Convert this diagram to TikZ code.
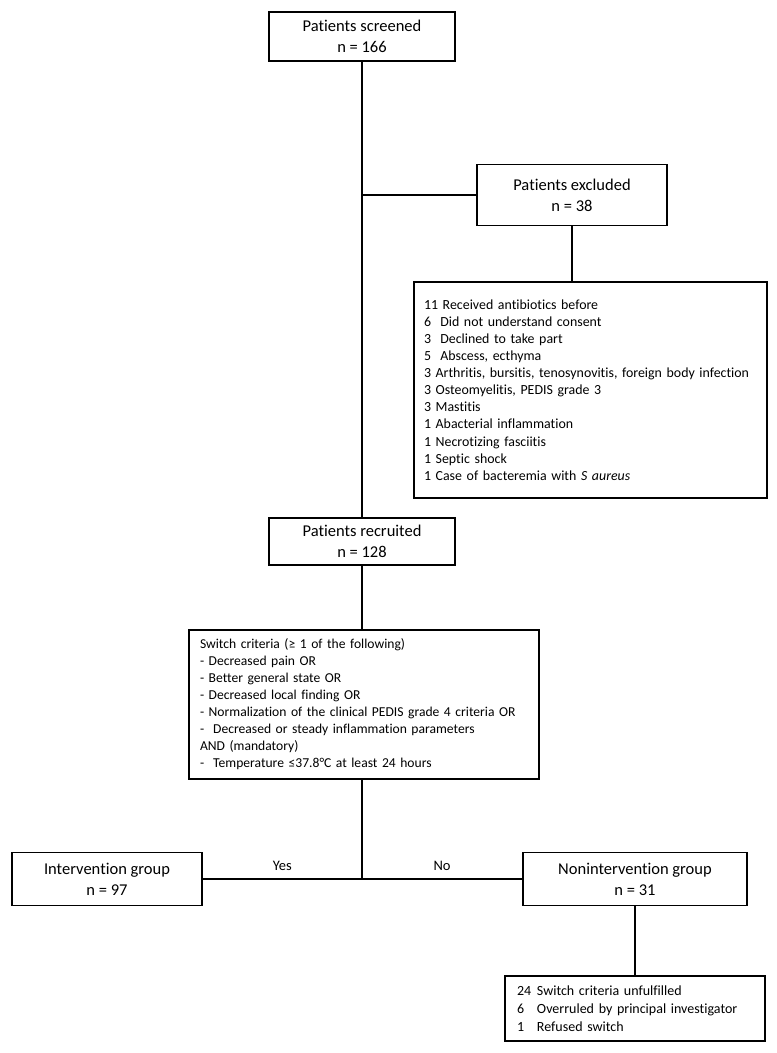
\documentclass[tikz,border=0pt]{standalone}
\usepackage{fontspec}
\setmainfont{Carlito}[Ligatures=NoCommon]
\usetikzlibrary{positioning, calc}

\begin{document}
\begin{tikzpicture}[
    x=1pt, y=-1pt,
    box/.style={draw, line width=1.5pt, align=center, inner sep=0pt,
                font=\fontsize{16.5}{21}\selectfont},
    listbox/.style={draw, line width=1.5pt, align=left, inner ysep=0pt,
                font=\fontsize{13.9}{17.1}\selectfont},
    link/.style={line width=1.5pt},
    answer/.style={font=\fontsize{14.5}{16}\selectfont, above=4pt},
  ]
    \useasboundingbox (0,0) rectangle (777,1053);

    % Screening
    \node[box, minimum width=186pt, minimum height=49pt]
      (screened) at (362,36.5) {Patients screened\\n = 166};

    % Exclusions
    \node[box, minimum width=190pt, minimum height=61pt]
      (excluded) at (572,195) {Patients excluded\\n = 38};
    \node[listbox, text width=333pt, inner xsep=10pt, minimum height=216pt]
      (excllist) at (590.5,390) {
      11 Received antibiotics before\\
      6\ \ Did not understand consent\\
      3\ \ Declined to take part\\
      5\ \ Abscess, ecthyma\\
      3 Arthritis, bursitis,\ tenosynovitis,\ foreign body infection\\
      3 Osteomyelitis, PEDIS\ grade 3\\
      3 Mastitis\\
      1 Abacterial inflammation\\
      1 Necrotizing\ fasciitis\\
      1 Septic\ shock\\
      1 Case of bacteremia with \textit{S aureus}};

    % Recruitment
    \node[box, minimum width=186pt, minimum height=47pt]
      (recruited) at (362,541.5) {Patients recruited\\n = 128};

    % Switch criteria
    \node[listbox, text width=328pt, inner xsep=11pt, minimum height=149pt,
          font=\fontsize{13.6}{17}\selectfont]
      (switch) at (364,704.5) {
      Switch criteria (≥ 1 of the following)\\
      - Decreased pain OR\\
      - Better general state OR\\
      - Decreased local finding OR\\
      - Normalization of the clinical PEDIS\ grade 4 criteria OR\\
      -\ \ Decreased or steady inflammation parameters\\
      AND (mandatory)\\
      -\ \ Temperature ≤37.8°C at least 24 hours};

    % Groups
    \node[box, minimum width=190pt, minimum height=53pt]
      (interv) at (107,879) {Intervention group\\n = 97};
    \node[box, minimum width=224pt, minimum height=53pt]
      (noninterv) at (635,879) {Nonintervention group\\n = 31};
    \node[listbox, text width=236pt, inner xsep=12pt, minimum height=65pt,
          font=\fontsize{14}{18.3}\selectfont]
      (nonlist) at (635,1008.5) {
      \makebox[20pt][l]{24}Switch criteria unfulfilled\\
      \makebox[20pt][l]{6}Overruled by principal investigator\\
      \makebox[20pt][l]{1}Refused switch};

    % Connectors
    \draw[link] (screened) -- (recruited);
    \draw[link] (screened.south |- excluded.west) -- (excluded.west);
    \draw[link] (excluded.south) -- (excluded.south |- excllist.north);
    \draw[link] (recruited.south) -- (recruited.south |- switch.north);
    \coordinate (split) at (recruited.south |- interv.east);
    \draw[link] (switch.south -| split) -- (split);
    \draw[link] (interv) -- node[answer] {Yes} (split);
    \draw[link] (split) -- node[answer] {No} (noninterv);
    \draw[link] (noninterv) -- (nonlist);
  \end{tikzpicture}
\end{document}
